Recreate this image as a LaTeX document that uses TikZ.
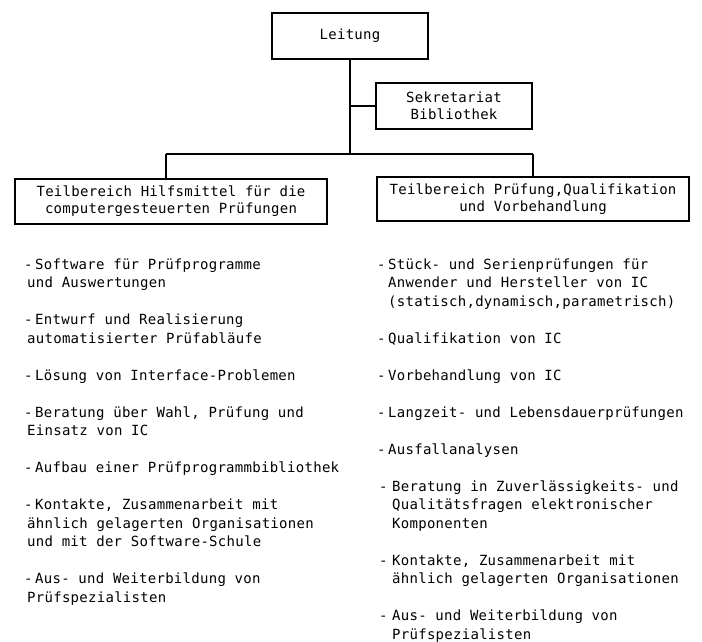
\documentclass[tikz,border=0pt]{standalone}
\usepackage{fontspec}
\newfontfamily\tw[LetterSpace=2]{DejaVu Sans Mono}
\tikzset{
  tx/.style={inner sep=0pt, anchor=base west, font=\tw\fontsize{14}{17}\selectfont},
  bx/.style={draw, line width=1.4pt, inner sep=0pt, align=center,
             font=\tw\fontsize{14}{17}\selectfont},
  ln/.style={line width=1.4pt},
}
\begin{document}
\begin{tikzpicture}[x=1pt,y=-1pt]
\fill[white] (0,0) rectangle (702,641);
\useasboundingbox (0,0) rectangle (702,641);

% boxes
\node[bx, minimum width=156pt, minimum height=46pt] (lead) at (350,36) {Leitung};
\node[bx, minimum width=156pt, minimum height=46pt] (sek) at (454,106) {Sekretariat\\Bibliothek};
\node[bx, minimum width=312pt, minimum height=45pt] (lbox) at (171,201.5)
  {Teilbereich Hilfsmittel für die\\computergesteuerten Prüfungen};
\node[bx, minimum width=312pt, minimum height=44pt] (rbox) at (533,199)
  {Teilbereich Prüfung,Qualifikation\\und Vorbehandlung};

% connectors
\coordinate (j) at (350,154);
\coordinate (jl) at (166,154);
\coordinate (jr) at (533,154);
\draw[ln] (lead.south) -- (j);
\draw[ln] (lead.south |- sek.west) -- (sek.west);
\draw[ln] (jl) -- (jr);
\draw[ln] (jl) -- (jl |- lbox.north);
\draw[ln] (jr) -- (jr |- rbox.north);

% left column
\node[tx] (l1d) at (24,269) {-};
\node[tx] (l1a) at (35,269) {Software für Prüfprogramme};
\node[tx] (l1b) at (27,287.5) {und Auswertungen};
\node[tx] (l2d) at (24,324.5) {-};
\node[tx] (l2a) at (35,324.5) {Entwurf und Realisierung};
\node[tx] (l2b) at (27,343) {automatisierter Prüfabläufe};
\node[tx] (l3d) at (24,380) {-};
\node[tx] (l3a) at (35,380) {Lösung von Interface-Problemen};
\node[tx] (l4d) at (24,417) {-};
\node[tx] (l4a) at (35,417) {Beratung über Wahl, Prüfung und};
\node[tx] (l4b) at (27,435.5) {Einsatz von IC};
\node[tx] (l5d) at (24,472.5) {-};
\node[tx] (l5a) at (35,472.5) {Aufbau einer Prüfprogrammbibliothek};
\node[tx] (l6d) at (24,509.5) {-};
\node[tx] (l6a) at (35,509.5) {Kontakte, Zusammenarbeit mit};
\node[tx] (l6b) at (27,528) {ähnlich gelagerten Organisationen};
\node[tx] (l6c) at (27,546.5) {und mit der Software-Schule};
\node[tx] (l7d) at (24,583.5) {-};
\node[tx] (l7a) at (35,583.5) {Aus- und Weiterbildung von};
\node[tx] (l7b) at (27,602) {Prüfspezialisten};

% right column
\node[tx] (r1d) at (377,269) {-};
\node[tx] (r1a) at (388,269) {Stück- und Serienprüfungen für};
\node[tx] (r1b) at (388,287.5) {Anwender und Hersteller von IC};
\node[tx] (r1c) at (388,306) {(statisch,dynamisch,parametrisch)};
\node[tx] (r2d) at (377,343) {-};
\node[tx] (r2a) at (388,343) {Qualifikation von IC};
\node[tx] (r3d) at (377,380) {-};
\node[tx] (r3a) at (388,380) {Vorbehandlung von IC};
\node[tx] (r4d) at (377,417) {-};
\node[tx] (r4a) at (388,417) {Langzeit- und Lebensdauerprüfungen};
\node[tx] (r5d) at (377,454) {-};
\node[tx] (r5a) at (388,454) {Ausfallanalysen};
\node[tx] (r6d) at (379,491) {-};
\node[tx] (r6a) at (392,491) {Beratung in Zuverlässigkeits- und};
\node[tx] (r6b) at (392,509.5) {Qualitätsfragen elektronischer};
\node[tx] (r6c) at (392,528) {Komponenten};
\node[tx] (r7d) at (379,565) {-};
\node[tx] (r7a) at (392,565) {Kontakte, Zusammenarbeit mit};
\node[tx] (r7b) at (392,583.5) {ähnlich gelagerten Organisationen};
\node[tx] (r8d) at (379,620.5) {-};
\node[tx] (r8a) at (392,620.5) {Aus- und Weiterbildung von};
\node[tx] (r8b) at (392,639) {Prüfspezialisten};
\end{tikzpicture}
\end{document}
